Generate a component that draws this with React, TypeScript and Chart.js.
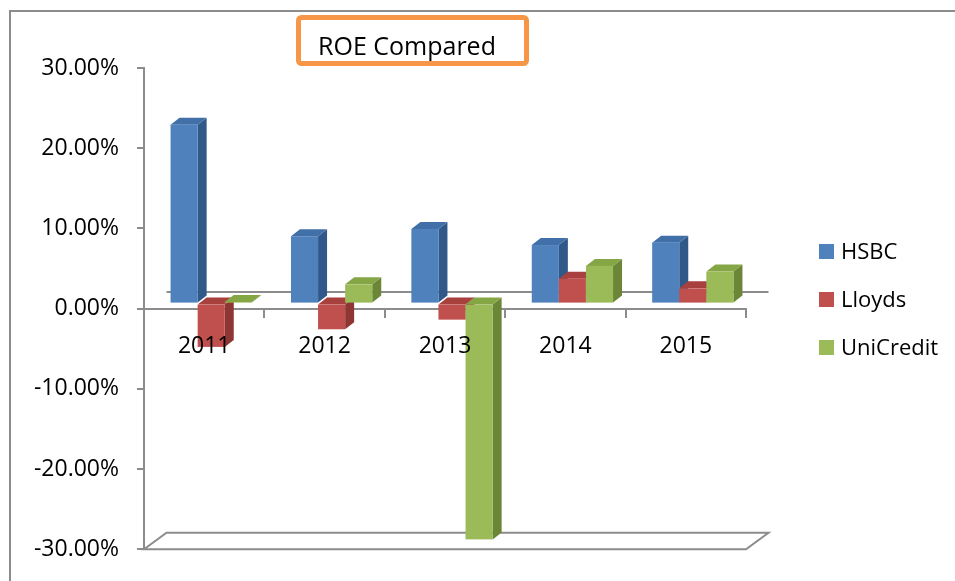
import React, { useEffect, useRef } from "react";
import { Chart, registerables } from "chart.js";

Chart.register(...registerables);

// ---- data ----
const categories = ["2011", "2012", "2013", "2014", "2015"];
const seriesNames = ["HSBC", "Lloyds", "UniCredit"];
const hsbc = [22.3, 8.4, 9.3, 7.3, 7.6];
const lloyds = [-5.4, -3.2, -2.0, 3.1, 1.9];
const unicredit = [0.2, 2.4, -29.4, 4.7, 4.0];
const yTicks = [-30, -20, -10, 0, 10, 20, 30];
const chartTitle = "ROE Compared";

// ---- styles ----
const FONT = "'Open Sans', sans-serif";
const GRID = "#8c8c8c";
const FACES = [
  { front: "#4f81bd", side: "#30598a", top: "#416fa8" },
  { front: "#c0504d", side: "#8e3634", top: "#a8413e" },
  { front: "#9bbb59", side: "#6a8636", top: "#85a645" },
];
const WALL = { dx: 22.5, dy: -16.5 };
const BAR_SHIFT = { dx: 7, dy: -5 };
const BAR_DEPTH = { dx: 9, dy: -7 };

function drawBox(ctx: CanvasRenderingContext2D, left: number, right: number, top: number, bottom: number, c: any) {
  const { dx, dy } = BAR_DEPTH;
  ctx.fillStyle = c.side;
  ctx.beginPath();
  ctx.moveTo(right, top);
  ctx.lineTo(right + dx, top + dy);
  ctx.lineTo(right + dx, bottom + dy);
  ctx.lineTo(right, bottom);
  ctx.closePath();
  ctx.fill();
  ctx.fillStyle = c.top;
  ctx.beginPath();
  ctx.moveTo(left, top);
  ctx.lineTo(left + dx, top + dy);
  ctx.lineTo(right + dx, top + dy);
  ctx.lineTo(right, top);
  ctx.closePath();
  ctx.fill();
  ctx.fillStyle = c.front;
  ctx.fillRect(left, top, right - left, bottom - top);
}

const threeD = {
  id: "threeD",
  beforeDraw(chart: any) {
    const { ctx } = chart;
    ctx.save();
    // outer frame
    ctx.strokeStyle = GRID;
    ctx.lineWidth = 2;
    ctx.strokeRect(10, 11, 1200, 1200);
    // title box
    ctx.strokeStyle = "#f79646";
    ctx.lineWidth = 5;
    ctx.beginPath();
    (ctx as any).roundRect(298.5, 17.5, 228, 46, 3);
    ctx.stroke();
    ctx.fillStyle = "#000";
    ctx.font = `25px ${FONT}`;
    ctx.textBaseline = "alphabetic";
    ctx.textAlign = "left";
    ctx.fillText(chartTitle, 318, 55);
    // legend
    ctx.font = `22px ${FONT}`;
    seriesNames.forEach((name, i) => {
      const base = 259 + i * 48;
      ctx.fillStyle = FACES[i].front;
      ctx.fillRect(819, base - 15, 15, 15);
      ctx.fillStyle = "#000";
      ctx.fillText(name, 841, base);
    });
    ctx.restore();
  },
  beforeDatasetsDraw(chart: any) {
    const { ctx, chartArea: a, scales } = chart;
    const z = scales.y.getPixelForValue(0);
    ctx.save();
    ctx.strokeStyle = GRID;
    ctx.lineWidth = 2;
    ctx.beginPath();
    ctx.moveTo(a.left + WALL.dx, z + WALL.dy);
    ctx.lineTo(a.right + WALL.dx, z + WALL.dy);
    ctx.stroke();
    ctx.beginPath();
    ctx.moveTo(a.left, a.bottom);
    ctx.lineTo(a.left + WALL.dx, a.bottom + WALL.dy);
    ctx.lineTo(a.right + WALL.dx, a.bottom + WALL.dy);
    ctx.lineTo(a.right, a.bottom);
    ctx.closePath();
    ctx.stroke();
    const metas = chart.data.datasets.map((_: any, d: number) => chart.getDatasetMeta(d));
    for (let i = 0; i < categories.length; i++) {
      metas.forEach((meta: any, d: number) => {
        const el = meta.data[i];
        if (!el) return;
        const p = el.getProps(["x", "y", "base", "width"], true);
        const left = p.x - p.width / 2 + BAR_SHIFT.dx;
        const right = p.x + p.width / 2 + BAR_SHIFT.dx;
        const top = Math.min(p.y, p.base) + BAR_SHIFT.dy;
        const bottom = Math.max(p.y, p.base) + BAR_SHIFT.dy;
        drawBox(ctx, left, right, top, bottom, FACES[d]);
      });
    }
    ctx.restore();
    return false;
  },
};

export default function App() {
  const ref = useRef<HTMLCanvasElement | null>(null);
  useEffect(() => {
    if (!ref.current) return;
    Chart.defaults.font.family = FONT;
    const series = [hsbc, lloyds, unicredit];
    const chart = new Chart(ref.current, {
      type: "bar",
      data: {
        labels: categories,
        datasets: seriesNames.map((name, i) => ({
          label: name,
          data: series[i],
          backgroundColor: FACES[i].front,
          categoryPercentage: 0.675,
          barPercentage: 1,
        })),
      },
      options: {
        animation: false,
        responsive: true,
        maintainAspectRatio: false,
        layout: { padding: { left: 0, right: 209, top: 68, bottom: 30 } },
        plugins: { legend: { display: false }, title: { display: false }, tooltip: { enabled: false } },
        scales: {
          x: {
            type: "category",
            position: { y: 0 } as any,
            offset: true,
            grid: { offset: true, drawOnChartArea: false, drawTicks: true, tickLength: 8, color: GRID, lineWidth: 2 },
            border: { display: true, color: GRID, width: 2 },
            ticks: { font: { size: 23, family: FONT }, color: "#000", padding: 16, z: 1, maxRotation: 0 },
          },
          y: {
            min: -30,
            max: 30,
            afterBuildTicks: (scale: any) => {
              scale.ticks = yTicks.map((v) => ({ value: v }));
            },
            afterFit: (scale: any) => {
              scale.width = 144;
            },
            grid: { drawOnChartArea: false, drawTicks: true, tickLength: 7, color: GRID, lineWidth: 2 },
            border: { display: true, color: GRID, width: 2 },
            ticks: {
              font: { size: 23, family: FONT },
              color: "#000",
              padding: 18,
              callback: (v: any) => Number(v).toFixed(2) + "%",
            },
          },
        },
      },
      plugins: [threeD],
    });
    return () => chart.destroy();
  }, []);
  return (
    <div style={{ position: "absolute", left: 0, top: 0, width: 955, height: 581 }}>
      <canvas ref={ref} />
    </div>
  );
}
